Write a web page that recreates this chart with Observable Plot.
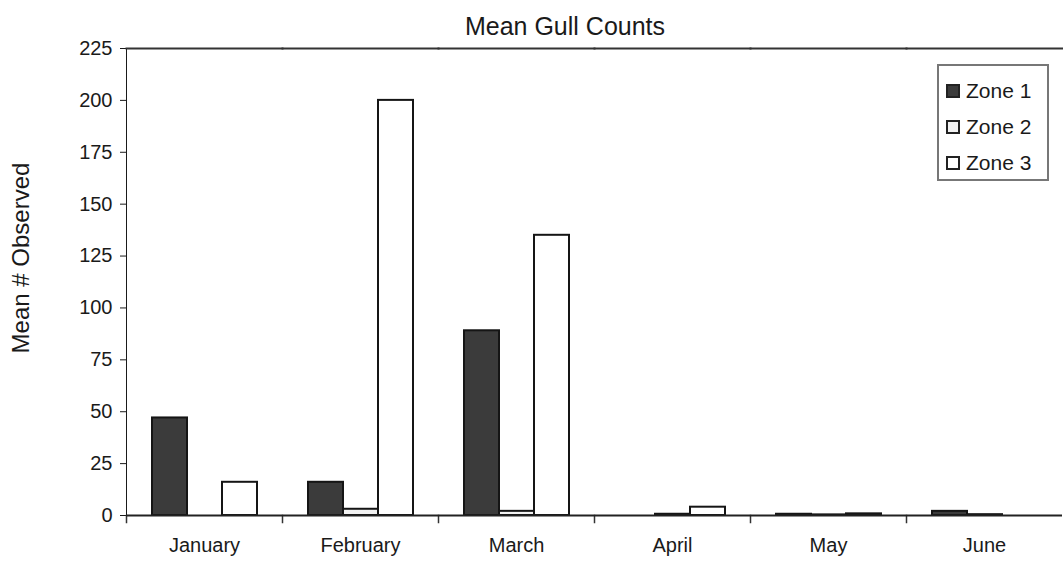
<!DOCTYPE html>
<html>
<head>
<meta charset="utf-8">
<script src="https://cdn.jsdelivr.net/npm/d3@7"></script>
<script src="https://cdn.jsdelivr.net/npm/@observablehq/plot@0.6"></script>
<style>
  body { margin: 0; background: #fff; font-family: "Liberation Sans", Arial, sans-serif; }
  #wrap { position: relative; width: 1063px; height: 562px; overflow: hidden; }
  #title { position: absolute; top: 12px; left: 0; width: 1130px; text-align: center; font-size: 25px; color: #1a1a1a; }
  #ylabel { position: absolute; left: 21px; top: 258px; transform: translate(-50%, -50%) rotate(-90deg); white-space: nowrap; font-size: 24px; color: #1a1a1a; }
  #legend { position: absolute; left: 937px; top: 64px; width: 112px; height: 117px; border: 2px solid #777; box-sizing: border-box; padding-top: 7px; }
  .row { display: flex; align-items: center; height: 36px; font-size: 21px; color: #1a1a1a; padding-left: 7px; }
  .sw { width: 10px; height: 10px; border: 2px solid #222; margin-right: 6px; }
</style>
</head>
<body>
<div id="wrap">
  <div id="chart"></div>
  <div id="title"></div>
  <div id="ylabel"></div>
  <div id="legend"></div>
</div>
<script>
const titleText = "Mean Gull Counts";
const yLabel = "Mean # Observed";
const months = ["January", "February", "March", "April", "May", "June"];
const zones = ["Zone 1", "Zone 2", "Zone 3"];
const zone1 = [47, 16, 89, 0, 0.6, 2];
const zone2 = [0, 3, 2, 0.6, 0.3, 0.4];
const zone3 = [16, 200, 135, 4, 0.8, 0];
const yTicks = [0, 25, 50, 75, 100, 125, 150, 175, 200, 225];
const zoneColors = ["#3b3b3b", "#f2f2f2", "#ffffff"];

const series = [zone1, zone2, zone3];
const data = [];
months.forEach((m, i) => zones.forEach((z, j) => data.push({ month: m, zone: z, value: series[j][i] })));

const chart = Plot.plot({
  width: 1063,
  height: 562,
  marginLeft: 125,
  marginRight: 0,
  marginTop: 48,
  marginBottom: 47,
  style: { fontFamily: "Liberation Sans, Arial, sans-serif", fontSize: "20px", color: "#1a1a1a", background: "transparent" },
  fx: { domain: months, padding: 0, label: null, axis: "bottom", tickSize: 0, tickPadding: 22 },
  x: { domain: zones, paddingInner: 0, paddingOuter: 0.7, axis: null },
  y: { domain: [0, 225], ticks: yTicks, label: null, line: true, tickSize: 6, tickPadding: 8 },
  color: { domain: zones, range: zoneColors },
  marks: [
    Plot.frame({ anchor: "top", stroke: "#333", strokeWidth: 2 }),
    Plot.frame({ anchor: "left", insetTop: 467, insetBottom: -7, stroke: "#333", strokeWidth: 1.5 }),
    Plot.barY(data, { fx: "month", x: "zone", y: "value", fill: "zone", stroke: "#151515", strokeWidth: 2 }),
    Plot.ruleY([0], { stroke: "#222", strokeWidth: 2 })
  ]
});
document.getElementById("chart").appendChild(chart);

document.getElementById("title").textContent = titleText;
document.getElementById("ylabel").textContent = yLabel;
const legend = document.getElementById("legend");
zones.forEach((z, j) => {
  const row = document.createElement("div");
  row.className = "row";
  const sw = document.createElement("div");
  sw.className = "sw";
  sw.style.background = zoneColors[j];
  const t = document.createElement("span");
  t.textContent = z;
  row.appendChild(sw);
  row.appendChild(t);
  legend.appendChild(row);
});
</script>
</body>
</html>
